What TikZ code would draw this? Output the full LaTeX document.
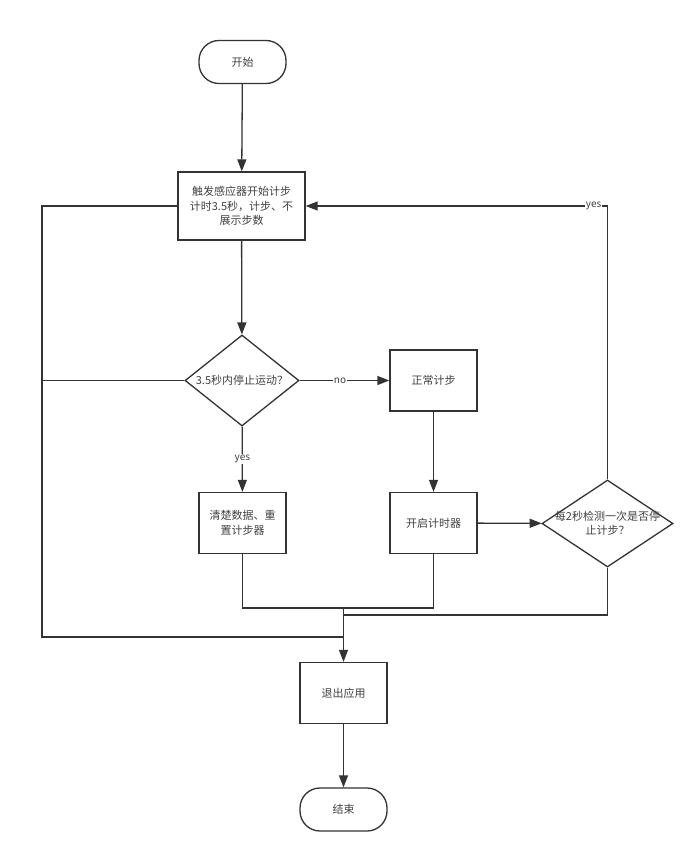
\documentclass[tikz,border=0pt]{standalone}
\usepackage{fontspec}
\setmainfont{Noto Sans CJK SC}
\usetikzlibrary{shapes.geometric,arrows.meta}
\definecolor{ln}{HTML}{333333}
\definecolor{tx}{HTML}{404040}
\begin{document}
\begin{tikzpicture}[x=1pt,y=-1pt,
  every node/.style={font=\fontsize{11}{14.5}\selectfont, text=tx},
  boxnode/.style={draw=ln, line width=1.3pt, minimum width=87pt, minimum height=61pt, inner sep=0pt, align=center},
  termnode/.style={draw=ln, line width=1.3pt, minimum width=87pt, minimum height=43pt, rounded corners=20pt, inner sep=0pt},
  dianode/.style={draw=ln, line width=1.3pt, diamond, inner sep=0pt},
  txt/.style={align=center, inner sep=0pt},
  conn/.style={draw=ln, line width=1.3pt},
  arr/.style={conn, -{Triangle[length=12pt,width=9pt]}},
  lbl/.style={fill=white, inner sep=1pt, font=\fontsize{10}{12}\selectfont}
]
\useasboundingbox (0,0) rectangle (700,859);

\node[termnode] (start) at (242.5,62) {开始};
\node[boxnode, minimum width=127pt, minimum height=68pt] (b1) at (241.5,206) {触发感应器开始计步\\计时3.5秒，计步、不\\展示步数};
\node[dianode, minimum width=114pt, minimum height=91pt] (d1) at (242,380.5) {};
\node[txt] (d1t) at (d1) {3.5秒内停止运动？};
\node[boxnode] (normal) at (433.5,380.5) {正常计步};
\node[boxnode] (clear) at (242.5,523) {清楚数据、重\\置计步器};
\node[boxnode] (timer) at (433.5,523) {开启计时器};
\node[dianode, minimum width=131pt, minimum height=87pt] (d2) at (607.5,523.5) {};
\node[txt] (d2t) at (d2) {每2秒检测一次是否停\\止计步？};
\node[boxnode] (exit) at (343.5,693) {退出应用};
\node[termnode] (end) at (343.5,809.5) {结束};

\coordinate (m1) at (343.5,608);
\coordinate (m2) at (343.5,615);
\coordinate (m3) at (343.5,637);
\coordinate (lt) at (42,206);
\coordinate (lb) at (42,637);

\draw[arr] (start) -- (b1);
\draw[arr] (b1) -- (d1);
\draw[arr] (d1) -- node[lbl, pos=0.45] {no} (normal);
\draw[arr] (d1) -- node[lbl] {yes} (clear);
\draw[arr] (normal) -- (timer);
\draw[arr] (timer) -- (d2);
\draw[arr] (d2.north) |- node[lbl, pos=0.523] {yes} (b1.east);
\draw[conn] (clear.south) |- (m1) -| (timer.south);
\draw[conn] (d2.south) |- (m2);
\draw[conn] (b1.west) -- (lt) -- (lb) -- (m3);
\draw[conn] (d1.west) -- (d1.west -| lt);
\draw[arr] (m1) -- (exit);
\draw[arr] (exit) -- (end);
\end{tikzpicture}
\end{document}
